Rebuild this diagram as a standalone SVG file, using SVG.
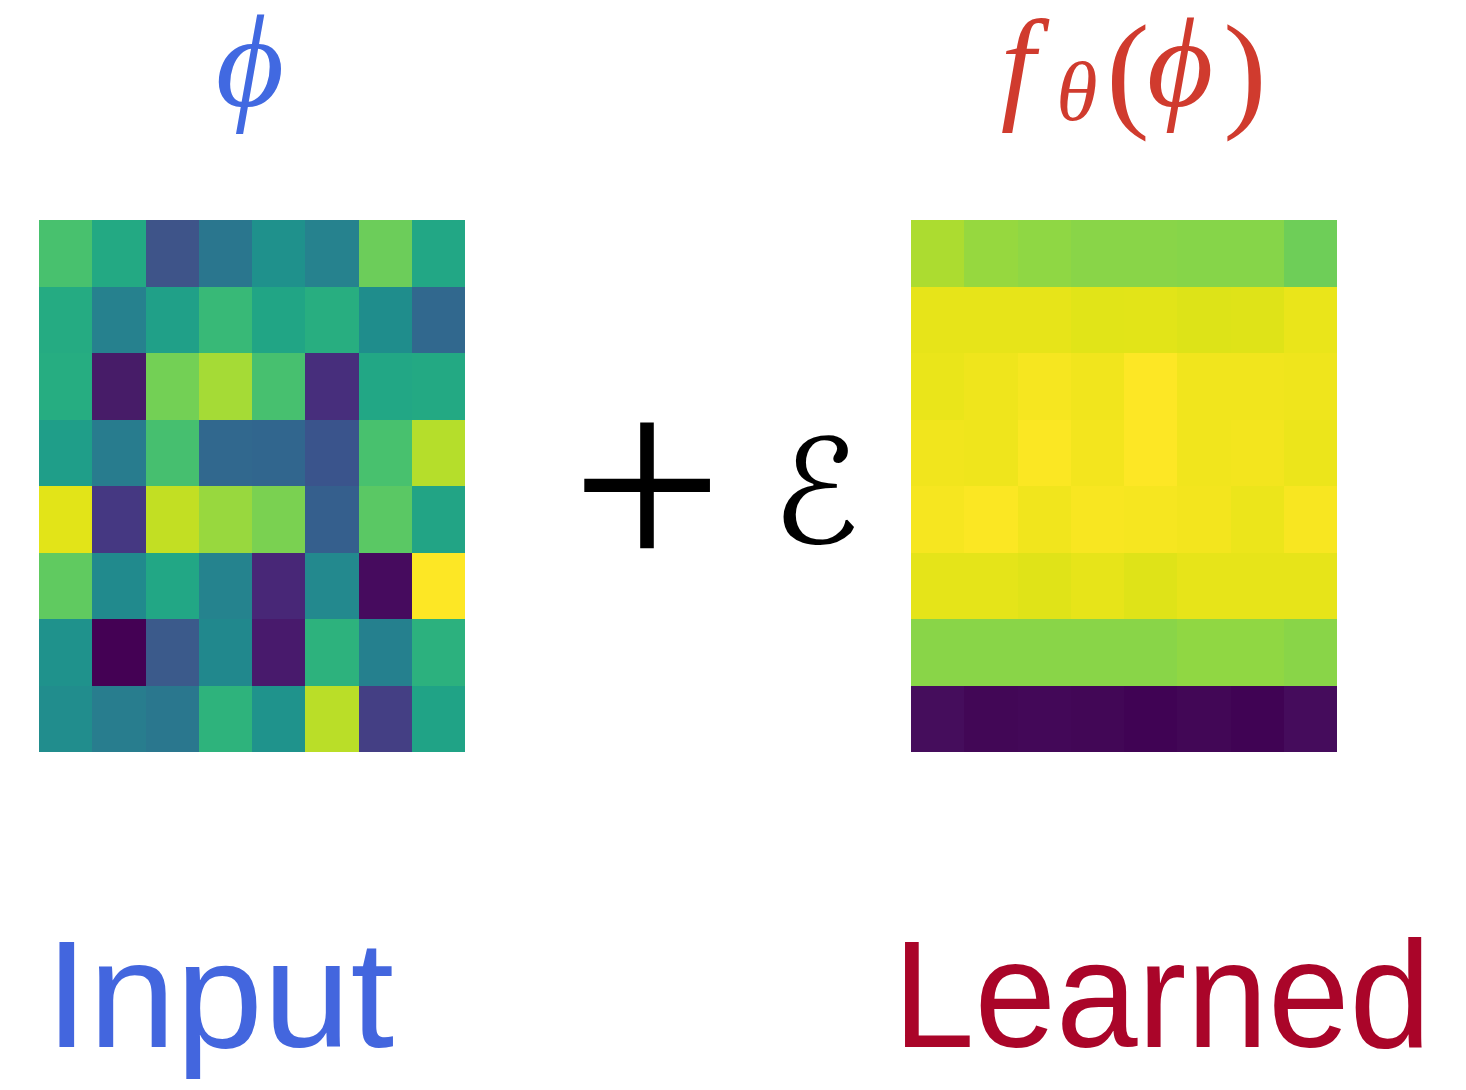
<svg xmlns="http://www.w3.org/2000/svg" width="1466" height="1090" viewBox="0 0 1466 1090">
<style>
.lbl{font-family:"Liberation Sans","DejaVu Sans",sans-serif;font-size:152px}
.math{font-family:"Liberation Serif","DejaVu Serif",serif;font-style:italic}
</style>
<rect width="1466" height="1090" fill="#ffffff"/>
<g id="input-grid" shape-rendering="crispEdges">
<g transform="translate(39,220)">
<rect x="0" y="0" width="54" height="67" fill="#48c16e"/><rect x="53.25" y="0" width="54" height="67" fill="#23a983"/><rect x="106.5" y="0" width="54" height="67" fill="#3e5489"/><rect x="159.75" y="0" width="54" height="67" fill="#2a768e"/><rect x="213" y="0" width="54" height="67" fill="#1f918c"/><rect x="266.25" y="0" width="54" height="67" fill="#26828e"/><rect x="319.5" y="0" width="54" height="67" fill="#6ccd5a"/><rect x="372.75" y="0" width="53.25" height="67" fill="#22a785"/>
<rect x="0" y="66.5" width="54" height="67" fill="#25ab82"/><rect x="53.25" y="66.5" width="54" height="67" fill="#26818e"/><rect x="106.5" y="66.5" width="54" height="67" fill="#20a088"/><rect x="159.75" y="66.5" width="54" height="67" fill="#38b977"/><rect x="213" y="66.5" width="54" height="67" fill="#21a585"/><rect x="266.25" y="66.5" width="54" height="67" fill="#28ae80"/><rect x="319.5" y="66.5" width="54" height="67" fill="#1f8d8c"/><rect x="372.75" y="66.5" width="53.25" height="67" fill="#31688e"/>
<rect x="0" y="133" width="54" height="67" fill="#26ad81"/><rect x="53.25" y="133" width="54" height="67" fill="#471c68"/><rect x="106.5" y="133" width="54" height="67" fill="#73d055"/><rect x="159.75" y="133" width="54" height="67" fill="#a5db36"/><rect x="213" y="133" width="54" height="67" fill="#47c06f"/><rect x="266.25" y="133" width="54" height="67" fill="#472e7c"/><rect x="319.5" y="133" width="54" height="67" fill="#22a785"/><rect x="372.75" y="133" width="53.25" height="67" fill="#23a983"/>
<rect x="0" y="199.5" width="54" height="67" fill="#1f9e89"/><rect x="53.25" y="199.5" width="54" height="67" fill="#287c8e"/><rect x="106.5" y="199.5" width="54" height="67" fill="#46bf6f"/><rect x="159.75" y="199.5" width="54" height="67" fill="#31688e"/><rect x="213" y="199.5" width="54" height="67" fill="#31668e"/><rect x="266.25" y="199.5" width="54" height="67" fill="#3a548c"/><rect x="319.5" y="199.5" width="54" height="67" fill="#48c16e"/><rect x="372.75" y="199.5" width="53.25" height="67" fill="#b5de2b"/>
<rect x="0" y="266" width="54" height="67" fill="#e2e418"/><rect x="53.25" y="266" width="54" height="67" fill="#453882"/><rect x="106.5" y="266" width="54" height="67" fill="#c2df23"/><rect x="159.75" y="266" width="54" height="67" fill="#98d83e"/><rect x="213" y="266" width="54" height="67" fill="#7ad151"/><rect x="266.25" y="266" width="54" height="67" fill="#355f8d"/><rect x="319.5" y="266" width="54" height="67" fill="#5ac864"/><rect x="372.75" y="266" width="53.25" height="67" fill="#22a485"/>
<rect x="0" y="332.5" width="54" height="67" fill="#60ca60"/><rect x="53.25" y="332.5" width="54" height="67" fill="#218a8d"/><rect x="106.5" y="332.5" width="54" height="67" fill="#22a785"/><rect x="159.75" y="332.5" width="54" height="67" fill="#25838e"/><rect x="213" y="332.5" width="54" height="67" fill="#482777"/><rect x="266.25" y="332.5" width="54" height="67" fill="#23898e"/><rect x="319.5" y="332.5" width="54" height="67" fill="#460b5e"/><rect x="372.75" y="332.5" width="53.25" height="67" fill="#fde725"/>
<rect x="0" y="399" width="54" height="67" fill="#1f928c"/><rect x="53.25" y="399" width="54" height="67" fill="#440154"/><rect x="106.5" y="399" width="54" height="67" fill="#3b5a8b"/><rect x="159.75" y="399" width="54" height="67" fill="#21888d"/><rect x="213" y="399" width="54" height="67" fill="#481a6c"/><rect x="266.25" y="399" width="54" height="67" fill="#2db27d"/><rect x="319.5" y="399" width="54" height="67" fill="#25808e"/><rect x="372.75" y="399" width="53.25" height="67" fill="#2cb17e"/>
<rect x="0" y="465.5" width="54" height="66.5" fill="#218d8d"/><rect x="53.25" y="465.5" width="54" height="66.5" fill="#287d8e"/><rect x="106.5" y="465.5" width="54" height="66.5" fill="#2a778e"/><rect x="159.75" y="465.5" width="54" height="66.5" fill="#2eb37c"/><rect x="213" y="465.5" width="54" height="66.5" fill="#1f938c"/><rect x="266.25" y="465.5" width="54" height="66.5" fill="#bade28"/><rect x="319.5" y="465.5" width="54" height="66.5" fill="#443f84"/><rect x="372.75" y="465.5" width="53.25" height="66.5" fill="#20a386"/>
</g>
</g>
<g id="learned-grid" shape-rendering="crispEdges">
<g transform="translate(911,220)">
<rect x="0" y="0" width="54" height="67" fill="#acdc30"/><rect x="53.25" y="0" width="54" height="67" fill="#96d83f"/><rect x="106.5" y="0" width="54" height="67" fill="#8fd744"/><rect x="159.75" y="0" width="54" height="67" fill="#89d548"/><rect x="213" y="0" width="54" height="67" fill="#89d548"/><rect x="266.25" y="0" width="54" height="67" fill="#86d549"/><rect x="319.5" y="0" width="54" height="67" fill="#86d549"/><rect x="372.75" y="0" width="53.25" height="67" fill="#6ece58"/>
<rect x="0" y="66.5" width="54" height="67" fill="#e7e419"/><rect x="53.25" y="66.5" width="54" height="67" fill="#e7e419"/><rect x="106.5" y="66.5" width="54" height="67" fill="#e7e419"/><rect x="159.75" y="66.5" width="54" height="67" fill="#e1e418"/><rect x="213" y="66.5" width="54" height="67" fill="#e2e418"/><rect x="266.25" y="66.5" width="54" height="67" fill="#dde318"/><rect x="319.5" y="66.5" width="54" height="67" fill="#dfe318"/><rect x="372.75" y="66.5" width="53.25" height="67" fill="#eae51a"/>
<rect x="0" y="133" width="54" height="67" fill="#eae51a"/><rect x="53.25" y="133" width="54" height="67" fill="#efe51c"/><rect x="106.5" y="133" width="54" height="67" fill="#f6e620"/><rect x="159.75" y="133" width="54" height="67" fill="#f1e51d"/><rect x="213" y="133" width="54" height="67" fill="#fde725"/><rect x="266.25" y="133" width="54" height="67" fill="#f1e51d"/><rect x="319.5" y="133" width="54" height="67" fill="#f1e51d"/><rect x="372.75" y="133" width="53.25" height="67" fill="#efe51c"/>
<rect x="0" y="199.5" width="54" height="67" fill="#f1e51d"/><rect x="53.25" y="199.5" width="54" height="67" fill="#efe51c"/><rect x="106.5" y="199.5" width="54" height="67" fill="#fbe723"/><rect x="159.75" y="199.5" width="54" height="67" fill="#f3e51e"/><rect x="213" y="199.5" width="54" height="67" fill="#fde725"/><rect x="266.25" y="199.5" width="54" height="67" fill="#f1e51d"/><rect x="319.5" y="199.5" width="54" height="67" fill="#f3e51e"/><rect x="372.75" y="199.5" width="53.25" height="67" fill="#ece51b"/>
<rect x="0" y="266" width="54" height="67" fill="#f6e620"/><rect x="53.25" y="266" width="54" height="67" fill="#fbe723"/><rect x="106.5" y="266" width="54" height="67" fill="#f1e51d"/><rect x="159.75" y="266" width="54" height="67" fill="#f8e621"/><rect x="213" y="266" width="54" height="67" fill="#f6e620"/><rect x="266.25" y="266" width="54" height="67" fill="#f3e51e"/><rect x="319.5" y="266" width="54" height="67" fill="#ece51b"/><rect x="372.75" y="266" width="53.25" height="67" fill="#f8e621"/>
<rect x="0" y="332.5" width="54" height="67" fill="#e5e419"/><rect x="53.25" y="332.5" width="54" height="67" fill="#e5e419"/><rect x="106.5" y="332.5" width="54" height="67" fill="#e0e318"/><rect x="159.75" y="332.5" width="54" height="67" fill="#e7e419"/><rect x="213" y="332.5" width="54" height="67" fill="#dfe318"/><rect x="266.25" y="332.5" width="54" height="67" fill="#e7e419"/><rect x="319.5" y="332.5" width="54" height="67" fill="#e7e419"/><rect x="372.75" y="332.5" width="53.25" height="67" fill="#e7e419"/>
<rect x="0" y="399" width="54" height="67" fill="#89d548"/><rect x="53.25" y="399" width="54" height="67" fill="#89d548"/><rect x="106.5" y="399" width="54" height="67" fill="#89d548"/><rect x="159.75" y="399" width="54" height="67" fill="#89d548"/><rect x="213" y="399" width="54" height="67" fill="#89d548"/><rect x="266.25" y="399" width="54" height="67" fill="#90d743"/><rect x="319.5" y="399" width="54" height="67" fill="#90d743"/><rect x="372.75" y="399" width="53.25" height="67" fill="#89d548"/>
<rect x="0" y="465.5" width="54" height="66.5" fill="#450d5c"/><rect x="53.25" y="465.5" width="54" height="66.5" fill="#420756"/><rect x="106.5" y="465.5" width="54" height="66.5" fill="#430858"/><rect x="159.75" y="465.5" width="54" height="66.5" fill="#420756"/><rect x="213" y="465.5" width="54" height="66.5" fill="#400354"/><rect x="266.25" y="465.5" width="54" height="66.5" fill="#420756"/><rect x="319.5" y="465.5" width="54" height="66.5" fill="#400354"/><rect x="372.75" y="465.5" width="53.25" height="66.5" fill="#450c5c"/>
</g>
</g>
<g id="phi-label">
<text class="math" x="250" y="106" font-size="132" fill="#4169e1" text-anchor="middle">ϕ</text>
</g>
<g id="f-label" fill="#d03b2e">
<text class="math" x="1018" y="106" font-size="124" text-anchor="middle">f</text>
<text class="math" x="1077" y="120" font-size="84" text-anchor="middle">θ</text>
<text x="1128" y="114" font-size="130" text-anchor="middle" font-family="Liberation Serif">(</text>
<text class="math" x="1180" y="106" font-size="128" text-anchor="middle">ϕ</text>
<text x="1245" y="114" font-size="130" text-anchor="middle" font-family="Liberation Serif">)</text>
</g>
<g id="operator">
<text x="647" y="575" font-size="270" text-anchor="middle" font-family="Liberation Serif" fill="#000">+</text>
<text x="816" y="543" font-size="145" text-anchor="middle" font-family="DejaVu Sans" font-style="italic" fill="#000">ℰ</text>
</g>
<g id="input-label">
<text class="lbl" x="45" y="1047" fill="#4366de" textLength="349" lengthAdjust="spacingAndGlyphs">Input</text>
</g>
<g id="learned-label">
<text class="lbl" x="893" y="1047" fill="#aa0529" textLength="538" lengthAdjust="spacingAndGlyphs">Learned</text>
</g>
</svg>
